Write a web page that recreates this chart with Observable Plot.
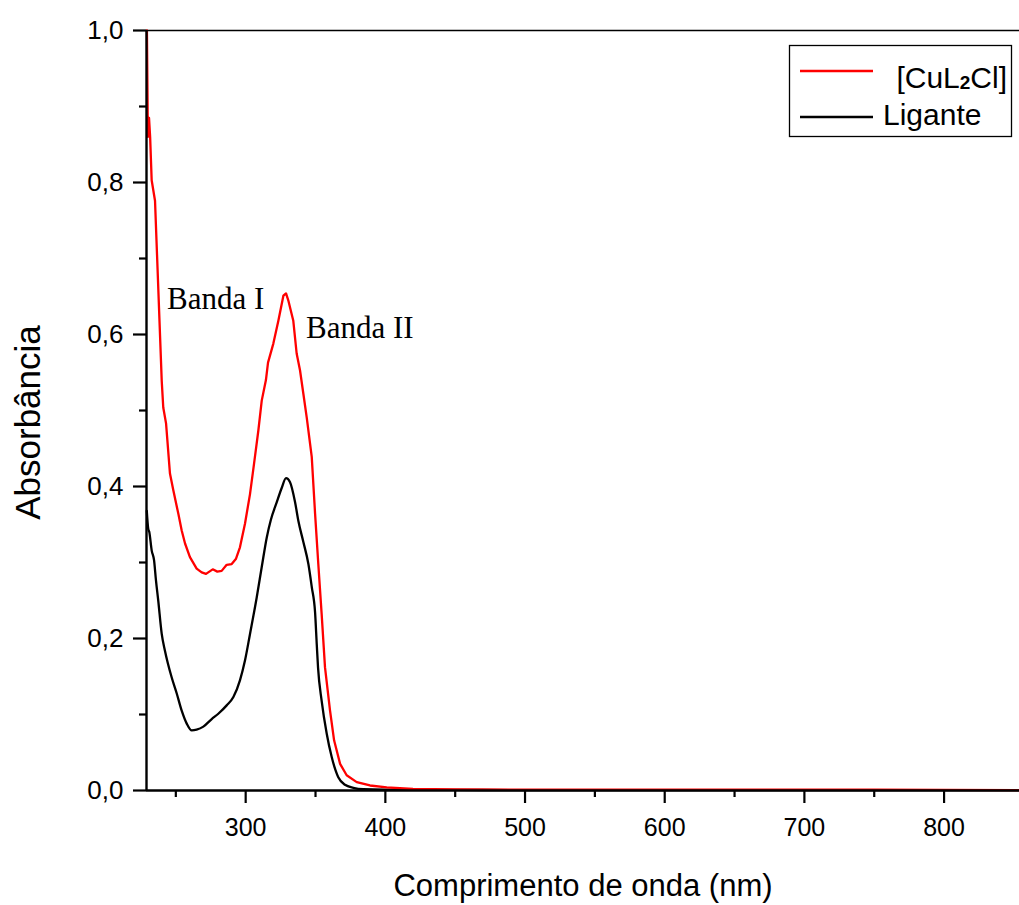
<!DOCTYPE html>
<html>
<head>
<meta charset="utf-8">
<script src="https://cdn.jsdelivr.net/npm/d3@7"></script>
<script src="https://cdn.jsdelivr.net/npm/@observablehq/plot@0.6"></script>
<style>
  html, body { margin: 0; padding: 0; background: #fff; }
  #wrap { position: relative; width: 1019px; height: 905px; }
  #legend { position: absolute; left: 0; top: 0; }
</style>
</head>
<body>
<div id="wrap"></div>
<script>
// ---- data ----
const cuNm  = [229.3, 230.0, 230.8, 231.6, 232.7, 235.1, 239.9, 241.0, 243.0, 245.8, 248.2, 251.8, 254.2, 256.6, 260.1, 264.9, 268.5, 271.6, 276.4, 279.7, 282.8, 286.4, 290.0, 293.1, 295.9, 299.5, 303.1, 306.0, 309.1, 311.5, 314.5, 316.0, 319.8, 323.4, 327.0, 328.9, 330.5, 334.1, 336.5, 338.9, 341.3, 343.7, 347.3, 349.7, 352.0, 354.4, 356.8, 360.4, 363.3, 367.6, 372.3, 379.5, 389.0, 401.0, 419.8, 450, 500, 550, 600, 650, 700, 750, 800, 854];
const cuAbs = [1.0, 0.86, 0.885, 0.86, 0.803, 0.776, 0.539, 0.504, 0.483, 0.417, 0.395, 0.364, 0.342, 0.325, 0.307, 0.292, 0.287, 0.285, 0.291, 0.288, 0.289, 0.297, 0.298, 0.305, 0.320, 0.351, 0.390, 0.430, 0.474, 0.513, 0.540, 0.563, 0.588, 0.618, 0.651, 0.654, 0.645, 0.618, 0.575, 0.553, 0.522, 0.491, 0.439, 0.364, 0.298, 0.232, 0.162, 0.105, 0.066, 0.035, 0.020, 0.011, 0.0066, 0.004, 0.002, 0.0015, 0.001, 0.0012, 0.001, 0.0012, 0.001, 0.0011, 0.0008, 0.0005];

const ligNm  = [229.2, 230.2, 231.0, 232.7, 234.4, 235.8, 237.4, 239.9, 242.2, 247.0, 250.6, 254.2, 257.8, 261.4, 264.9, 269.7, 275.7, 280.4, 286.4, 291.2, 295.9, 299.5, 303.1, 307.9, 311.5, 315.1, 318.0, 322.2, 325.8, 328.9, 331.7, 335.3, 337.7, 341.3, 344.9, 347.3, 349.7, 350.9, 351.8, 354.4, 358.0, 361.6, 366.3, 371.1, 377.1, 384.2, 400, 450, 500, 600, 700, 800, 854];
const ligAbs = [0.368, 0.345, 0.340, 0.316, 0.303, 0.276, 0.250, 0.206, 0.184, 0.149, 0.128, 0.105, 0.088, 0.079, 0.080, 0.084, 0.094, 0.101, 0.112, 0.123, 0.145, 0.171, 0.206, 0.254, 0.294, 0.333, 0.356, 0.379, 0.398, 0.411, 0.406, 0.380, 0.355, 0.327, 0.298, 0.268, 0.234, 0.192, 0.162, 0.118, 0.075, 0.044, 0.0175, 0.0075, 0.0036, 0.0017, 0.001, 0.0008, 0.0005, 0.0005, 0.0005, 0.0005, 0.0005];

const xMajorTicks = [300, 400, 500, 600, 700, 800];
const xMinorTicks = [250, 350, 450, 550, 650, 750];
const yMajorTicks = [0, 0.2, 0.4, 0.6, 0.8, 1.0];
const yMinorTicks = [0.1, 0.3, 0.5, 0.7, 0.9];
const seriesNames = ["[CuL\u2082Cl]", "Ligante"];
const seriesColors = ["#ff0000", "#000000"];
const annotations = [
  {label: "Banda I", nm: 243.7, abs: 0.633},
  {label: "Banda II", nm: 343.2, abs: 0.595}
];
const xTitle = "Comprimento de onda (nm)";
const yTitle = "Absorbância";

const cu = cuNm.map((x, i) => ({x, y: cuAbs[i]}));
const lig = ligNm.map((x, i) => ({x, y: ligAbs[i]}));
const fmt = d => d.toFixed(1).replace(".", ",");
const SANS = "'Liberation Sans', Arial, Helvetica, sans-serif";

const chart = Plot.plot({
  width: 1019,
  height: 905,
  marginLeft: 146,
  marginRight: 0,
  marginTop: 30,
  marginBottom: 115,
  style: {fontFamily: SANS, background: "#fff", color: "#000", overflow: "visible"},
  x: {domain: [229, 854]},
  y: {domain: [0, 1.0]},
  marks: [
    Plot.line(lig, {x: "x", y: "y", stroke: seriesColors[1], strokeWidth: 2.3, curve: "monotone-x"}),
    Plot.line(cu, {x: "x", y: "y", stroke: seriesColors[0], strokeWidth: 2.3, curve: "linear"}),
    Plot.axisX({ticks: xMajorTicks, tickSize: 13, tickPadding: 15, tickFormat: d => String(d), fontSize: 25, strokeWidth: 2.2, label: null}),
    Plot.axisX({ticks: xMinorTicks, tickSize: 7, tickFormat: () => "", strokeWidth: 2.2, label: null}),
    Plot.axisY({ticks: yMajorTicks, tickSize: 13, tickPadding: 10, tickFormat: fmt, fontSize: 26, strokeWidth: 2.2, label: null}),
    Plot.axisY({ticks: yMinorTicks, tickSize: 7, tickFormat: () => "", strokeWidth: 2.2, label: null}),
    Plot.ruleX([229], {stroke: "#000", strokeWidth: 2.4}),
    Plot.ruleY([0], {stroke: "#000", strokeWidth: 2.4}),
    Plot.ruleY([1.0], {stroke: "#000", strokeWidth: 1.4}),
    Plot.text(annotations, {x: "nm", y: "abs", text: "label", textAnchor: "start", lineAnchor: "bottom", fontSize: 31, fontFamily: "'Liberation Serif', 'Times New Roman', serif", fill: "#000"}),
    Plot.text([xTitle], {frameAnchor: "bottom", textAnchor: "middle", lineAnchor: "bottom", dy: 105, fontSize: 31, fill: "#000"}),
    Plot.text([yTitle], {frameAnchor: "left", textAnchor: "middle", lineAnchor: "middle", rotate: -90, dx: -118, dy: 12, fontSize: 35, fill: "#000"})
  ]
});

const wrap = document.getElementById("wrap");
wrap.appendChild(chart);

// legend overlay
const ns = "http://www.w3.org/2000/svg";
const leg = document.createElementNS(ns, "svg");
leg.setAttribute("id", "legend");
leg.setAttribute("width", 1019);
leg.setAttribute("height", 905);
leg.style.pointerEvents = "none";
const rect = document.createElementNS(ns, "rect");
rect.setAttribute("x", 789.5); rect.setAttribute("y", 45.5);
rect.setAttribute("width", 222); rect.setAttribute("height", 91);
rect.setAttribute("fill", "#fff"); rect.setAttribute("stroke", "#000"); rect.setAttribute("stroke-width", 1.3);
leg.appendChild(rect);
const rows = [{y: 71, base: 88}, {y: 117, base: 125}];
seriesNames.forEach((name, i) => {
  const ln = document.createElementNS(ns, "line");
  ln.setAttribute("x1", 800); ln.setAttribute("x2", 873);
  ln.setAttribute("y1", rows[i].y); ln.setAttribute("y2", rows[i].y);
  ln.setAttribute("stroke", seriesColors[i]); ln.setAttribute("stroke-width", 2.4);
  leg.appendChild(ln);
  const t = document.createElementNS(ns, "text");
  t.setAttribute("font-family", SANS);
  t.setAttribute("font-size", 30);
  t.setAttribute("fill", "#000");
  t.setAttribute("y", rows[i].base);
  if (i === 0) {
    t.setAttribute("x", 1007);
    t.setAttribute("text-anchor", "end");
    const parts = name.split("\u2082");
    t.appendChild(document.createTextNode(parts[0]));
    const sub = document.createElementNS(ns, "tspan");
    sub.setAttribute("font-size", 19);
    sub.setAttribute("font-weight", "bold");
    sub.setAttribute("dy", 1);
    sub.textContent = "2";
    t.appendChild(sub);
    const rest = document.createElementNS(ns, "tspan");
    rest.setAttribute("dy", -1);
    rest.textContent = parts[1];
    t.appendChild(rest);
  } else {
    t.setAttribute("x", 883);
    t.textContent = name;
  }
  leg.appendChild(t);
});
wrap.appendChild(leg);
</script>
</body>
</html>
